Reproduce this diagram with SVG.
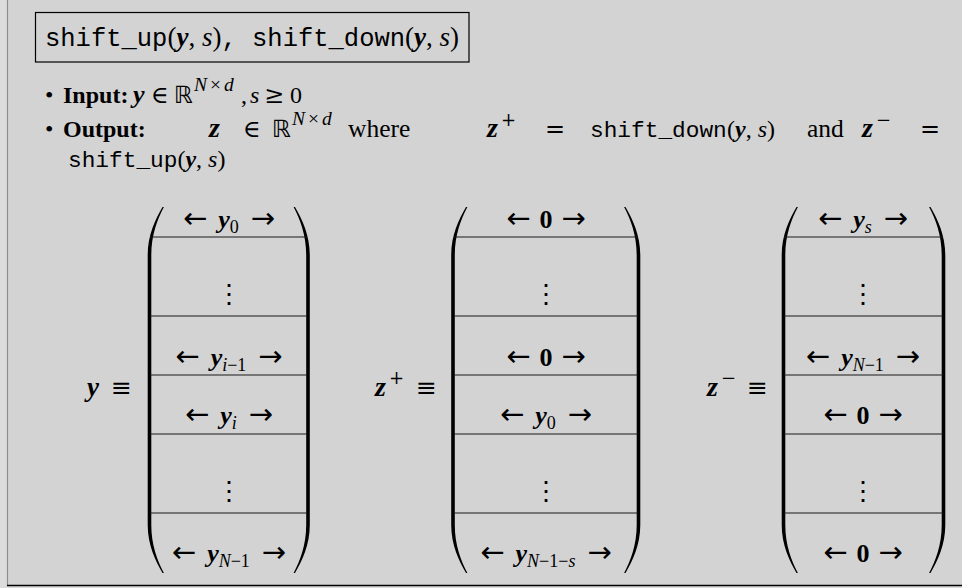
<svg xmlns="http://www.w3.org/2000/svg" width="962" height="588" viewBox="0 0 962 588">
<style>
text{font-family:"Liberation Serif","DejaVu Serif",serif;font-size:24px;fill:#000}
.tt{font-family:"Liberation Mono",monospace;font-size:22.8px}
.ttl{font-family:"Liberation Mono",monospace;font-size:25.5px}
.b{font-weight:bold}
.it{font-style:italic}
.bi{font-style:italic;font-weight:bold}
.sm{font-size:18px}
.sup{font-size:19.5px;letter-spacing:3px}
.sym{font-family:"DejaVu Serif",serif}
.bb{font-family:"DejaVu Sans","DejaVu Serif",sans-serif}
.row{text-anchor:middle;font-size:26px}
.ar{font-family:"DejaVu Sans",sans-serif;font-size:29px}
.rule{stroke:#1a1a1a;stroke-width:1.2}
</style>
<defs>
<path id="lp" d="M13,0 C6,12 -1.8,28 -1.8,48 L-1.8,318 C-1.8,338 6,354 13,366 L14.4,366 C8,354 1.8,338 1.8,318 L1.8,48 C1.8,28 8,12 14.4,0 Z"/>
</defs>
<rect x="0" y="0" width="962" height="588" fill="#dcdcdc"/>
<rect x="7.5" y="0" width="954.5" height="585" fill="#d3d3d3"/>
<line x1="7.5" y1="0" x2="7.5" y2="586" stroke="#8c8c8c" stroke-width="1.2"/>
<line x1="7" y1="585.5" x2="962" y2="585.5" stroke="#000" stroke-width="1.6"/>

<g id="title">
<rect x="35.5" y="12.5" width="433.5" height="49.5" fill="none" stroke="#000" stroke-width="1.2"/>
<text x="45" y="46" style="font-size:27px"><tspan class="ttl">shift_up</tspan><tspan>(</tspan><tspan class="bi">y</tspan><tspan>, </tspan><tspan class="it">s</tspan><tspan>)</tspan><tspan class="ttl">, shift_down</tspan><tspan>(</tspan><tspan class="bi">y</tspan><tspan>, </tspan><tspan class="it">s</tspan><tspan>)</tspan></text>
</g>

<g id="input">
<text x="45" y="103">•</text>
<text x="63" y="103" class="b">Input:</text>
<text x="133" y="103" class="bi" style="font-size:26px">y</text>
<text x="151" y="103" class="sym">∈</text>
<text x="174" y="103" class="bb">ℝ</text>
<text x="194" y="91" class="sup"><tspan class="it">N</tspan>×<tspan class="it">d</tspan></text>
<text x="241" y="103">,</text>
<text x="250" y="103" class="it">s</text>
<text x="264" y="103" class="sym">≥</text>
<text x="290" y="103">0</text>
</g>

<g id="output">
<text x="45" y="137">•</text>
<text x="63" y="137" class="b">Output:</text>
<text x="209" y="137" class="bi" style="font-size:28px">z</text>
<text x="243" y="137" class="sym">∈</text>
<text x="272" y="137" class="bb">ℝ</text>
<text x="292" y="125" class="sup"><tspan class="it">N</tspan>×<tspan class="it">d</tspan></text>
<text x="348" y="137" style="font-size:25.5px">where</text>
<text x="487" y="137" class="bi" style="font-size:28px">z</text>
<text x="501" y="126" class="sm sym">+</text>
<text x="545" y="137" class="sym">=</text>
<text x="590" y="137" class="tt">shift_down</text>
<text x="727" y="137">(<tspan class="bi">y</tspan>, <tspan class="it">s</tspan>)</text>
<text x="807" y="137" style="font-size:25.5px">and</text>
<text x="862" y="137" class="bi" style="font-size:28px">z</text>
<text x="876" y="126" class="sm sym">−</text>
<text x="920" y="137" class="sym">=</text>
<text x="68" y="167"><tspan class="tt">shift_up</tspan>(<tspan class="bi">y</tspan>, <tspan class="it">s</tspan>)</text>
</g>

<g id="matrix-y">
<text x="87" y="396" class="bi" style="font-size:27px">y</text>
<text x="111" y="396" class="sym" style="font-size:25px">≡</text>
<use href="#lp" transform="translate(149.5,207)"/>
<use href="#lp" transform="translate(308,207) scale(-1,1)"/>
<line class="rule" x1="150" y1="237" x2="307" y2="237"/>
<line class="rule" x1="150" y1="316" x2="307" y2="316"/>
<line class="rule" x1="150" y1="375" x2="307" y2="375"/>
<line class="rule" x1="150" y1="434" x2="307" y2="434"/>
<line class="rule" x1="150" y1="513" x2="307" y2="513"/>
<text class="row" x="229" y="228"><tspan class="ar">←</tspan><tspan class="bi" dx="11">y</tspan><tspan class="sm" dy="5">0</tspan><tspan class="ar" dy="-5" dx="12">→</tspan></text>
<text class="row sym" x="229" y="303">⋮</text>
<text class="row" x="229" y="366"><tspan class="ar">←</tspan><tspan class="bi" dx="11">y</tspan><tspan class="sm" dy="5"><tspan class="it">i</tspan>−1</tspan><tspan class="ar" dy="-5" dx="12">→</tspan></text>
<text class="row" x="229" y="424"><tspan class="ar">←</tspan><tspan class="bi" dx="11">y</tspan><tspan class="sm it" dy="5">i</tspan><tspan class="ar" dy="-5" dx="12">→</tspan></text>
<text class="row sym" x="229" y="500">⋮</text>
<text class="row" x="229" y="562"><tspan class="ar">←</tspan><tspan class="bi" dx="11">y</tspan><tspan class="sm" dy="5"><tspan class="it">N</tspan>−1</tspan><tspan class="ar" dy="-5" dx="12">→</tspan></text>
</g>

<g id="matrix-zplus">
<text x="375" y="396" class="bi" style="font-size:28px">z</text>
<text x="389" y="384" class="sm sym">+</text>
<text x="416" y="396" class="sym" style="font-size:25px">≡</text>
<use href="#lp" transform="translate(453,207)"/>
<use href="#lp" transform="translate(638.5,207) scale(-1,1)"/>
<line class="rule" x1="454" y1="237" x2="638" y2="237"/>
<line class="rule" x1="454" y1="316" x2="638" y2="316"/>
<line class="rule" x1="454" y1="375" x2="638" y2="375"/>
<line class="rule" x1="454" y1="434" x2="638" y2="434"/>
<line class="rule" x1="454" y1="513" x2="638" y2="513"/>
<text class="row" x="546" y="228"><tspan class="ar">←</tspan><tspan class="b" dx="9">0</tspan><tspan class="ar" dx="9">→</tspan></text>
<text class="row sym" x="546" y="303">⋮</text>
<text class="row" x="546" y="366"><tspan class="ar">←</tspan><tspan class="b" dx="9">0</tspan><tspan class="ar" dx="9">→</tspan></text>
<text class="row" x="546" y="424"><tspan class="ar">←</tspan><tspan class="bi" dx="11">y</tspan><tspan class="sm" dy="5">0</tspan><tspan class="ar" dy="-5" dx="12">→</tspan></text>
<text class="row sym" x="546" y="500">⋮</text>
<text class="row" x="546" y="562"><tspan class="ar">←</tspan><tspan class="bi" dx="11">y</tspan><tspan class="sm" dy="5"><tspan class="it">N</tspan>−1−<tspan class="it">s</tspan></tspan><tspan class="ar" dy="-5" dx="12">→</tspan></text>
</g>

<g id="matrix-zminus">
<text x="707" y="396" class="bi" style="font-size:28px">z</text>
<text x="721" y="384" class="sm sym">−</text>
<text x="747" y="396" class="sym" style="font-size:25px">≡</text>
<use href="#lp" transform="translate(783.5,207)"/>
<use href="#lp" transform="translate(943.5,207) scale(-1,1)"/>
<line class="rule" x1="784" y1="237" x2="943" y2="237"/>
<line class="rule" x1="784" y1="316" x2="943" y2="316"/>
<line class="rule" x1="784" y1="375" x2="943" y2="375"/>
<line class="rule" x1="784" y1="434" x2="943" y2="434"/>
<line class="rule" x1="784" y1="513" x2="943" y2="513"/>
<text class="row" x="863" y="228"><tspan class="ar">←</tspan><tspan class="bi" dx="11">y</tspan><tspan class="sm it" dy="5">s</tspan><tspan class="ar" dy="-5" dx="12">→</tspan></text>
<text class="row sym" x="863" y="303">⋮</text>
<text class="row" x="863" y="366"><tspan class="ar">←</tspan><tspan class="bi" dx="11">y</tspan><tspan class="sm" dy="5"><tspan class="it">N</tspan>−1</tspan><tspan class="ar" dy="-5" dx="12">→</tspan></text>
<text class="row" x="863" y="424"><tspan class="ar">←</tspan><tspan class="b" dx="9">0</tspan><tspan class="ar" dx="9">→</tspan></text>
<text class="row sym" x="863" y="500">⋮</text>
<text class="row" x="863" y="562"><tspan class="ar">←</tspan><tspan class="b" dx="9">0</tspan><tspan class="ar" dx="9">→</tspan></text>
</g>
</svg>
